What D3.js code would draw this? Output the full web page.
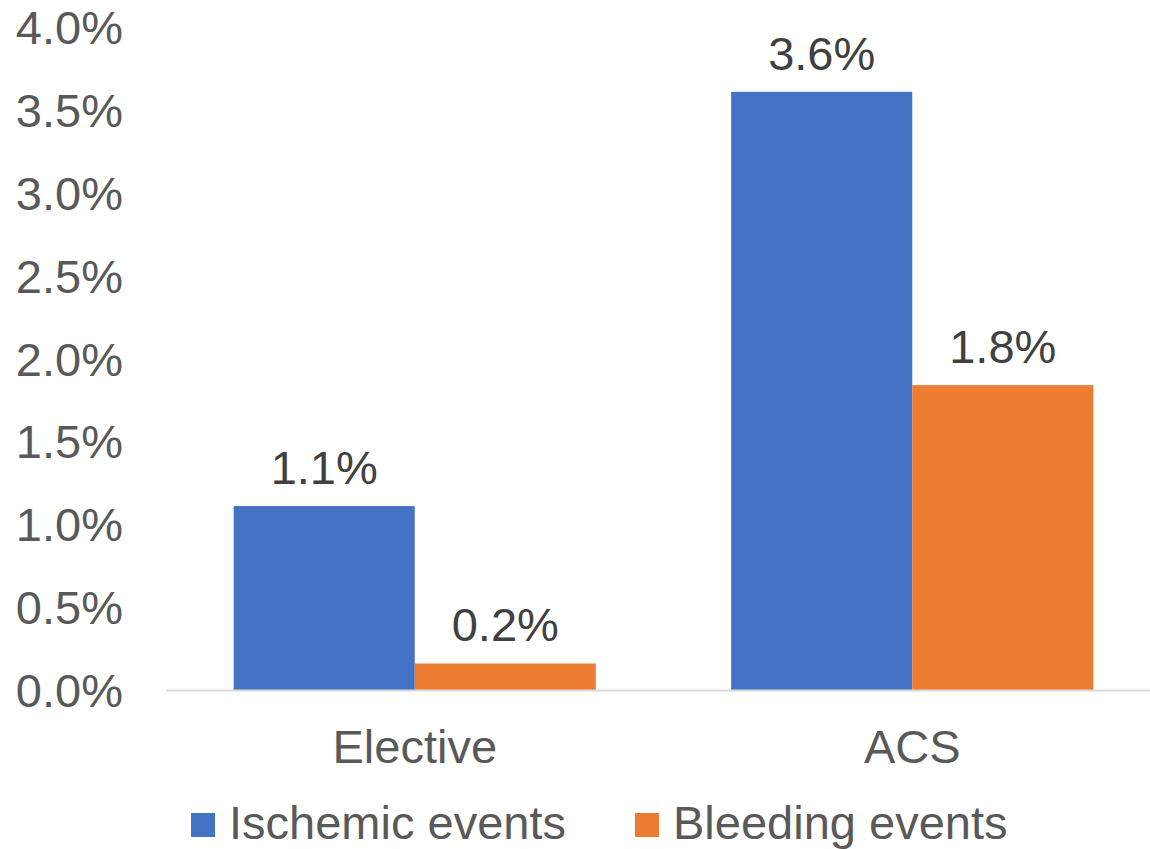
<!DOCTYPE html>
<html>
<head>
<meta charset="utf-8">
<script src="https://cdn.jsdelivr.net/npm/d3@7"></script>
<style>
  html, body { margin: 0; padding: 0; background: #fff; }
  svg { display: block; font-family: "Liberation Sans", Arial, sans-serif; }
</style>
</head>
<body>
<svg id="chart" width="1150" height="849"></svg>
<script>
const categories = ["Elective", "ACS"];
const seriesNames = ["Ischemic events", "Bleeding events"];
const ischemicValues = [0.0111, 0.0361];
const bleedingValues = [0.0016, 0.0184];
const ischemicLabels = ["1.1%", "3.6%"];
const bleedingLabels = ["0.2%", "1.8%"];
const yTickValues = [0, 0.005, 0.01, 0.015, 0.02, 0.025, 0.03, 0.035, 0.04];
const seriesColors = ["#4472C4", "#ED7D31"];

const svg = d3.select("#chart");

const x = d3.scaleBand().domain(categories).range([166, 1161])
  .paddingInner(0.272).paddingOuter(0.136);
const xs = d3.scaleBand().domain(seriesNames).range([0, x.bandwidth()]).padding(0);
const y = d3.scaleLinear().domain([0, 0.04]).range([690, 27.2]);
const color = d3.scaleOrdinal().domain(seriesNames).range(seriesColors);

const rows = categories.map((c, i) => ({
  category: c,
  values: [
    { series: seriesNames[0], value: ischemicValues[i], label: ischemicLabels[i] },
    { series: seriesNames[1], value: bleedingValues[i], label: bleedingLabels[i] }
  ]
}));

// Y tick labels (no axis line)
const yAxis = d3.axisLeft(y).tickValues(yTickValues).tickFormat(d3.format(".1%")).tickSize(0).tickPadding(0);
const yg = svg.append("g").attr("transform", "translate(123,0)").call(yAxis);
yg.select(".domain").remove();
yg.selectAll("text")
  .attr("font-family", "'Liberation Sans', Arial, sans-serif")
  .attr("font-size", 47)
  .attr("fill", "#595959")
  .attr("dy", "0.35em");

// Bars
const groups = svg.append("g").selectAll("g").data(rows).join("g")
  .attr("transform", d => `translate(${x(d.category)},0)`);

groups.selectAll("rect").data(d => d.values).join("rect")
  .attr("x", d => xs(d.series))
  .attr("y", d => y(d.value))
  .attr("width", xs.bandwidth())
  .attr("height", d => y(0) - y(d.value))
  .attr("fill", d => color(d.series));

groups.selectAll("text.val").data(d => d.values).join("text")
  .attr("class", "val")
  .attr("x", d => xs(d.series) + xs.bandwidth() / 2)
  .attr("y", d => y(d.value) - 22)
  .attr("text-anchor", "middle")
  .attr("font-size", 47)
  .attr("fill", "#404040")
  .text(d => d.label);

// X axis
const xAxis = d3.axisBottom(x).tickSize(0).tickSizeOuter(0);
const xg = svg.append("g").attr("transform", `translate(0,${y(0)})`).call(xAxis);
xg.select(".domain").attr("stroke", "#d9d9d9").attr("stroke-width", 2);
xg.selectAll("text")
  .attr("font-family", "'Liberation Sans', Arial, sans-serif")
  .attr("font-size", 47)
  .attr("fill", "#595959")
  .attr("y", 73)
  .attr("dy", 0);

// Legend
const legendX = [191, 635];
const legend = svg.append("g").selectAll("g").data(seriesNames).join("g")
  .attr("transform", (d, i) => `translate(${legendX[i]},813)`);
legend.append("rect")
  .attr("width", 24).attr("height", 24)
  .attr("fill", d => color(d));
legend.append("text")
  .attr("x", 38).attr("y", 26)
  .attr("font-size", 47)
  .attr("fill", "#595959")
  .text(d => d);
</script>
</body>
</html>
